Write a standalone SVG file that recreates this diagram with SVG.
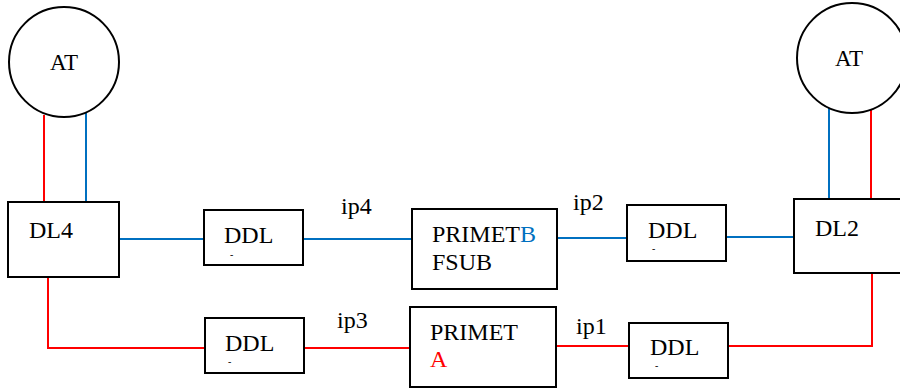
<svg xmlns="http://www.w3.org/2000/svg" width="900" height="389" viewBox="0 0 900 389" font-family="'Liberation Serif', 'Times New Roman', 'DejaVu Serif', serif">
<style>
.box{fill:#fff;stroke:#000;stroke-width:2}
.t{font-family:'Liberation Serif','Times New Roman','DejaVu Serif',serif;font-size:24px}
.s{font-family:'Liberation Serif','Times New Roman','DejaVu Serif',serif;font-size:10px}
.r{stroke:#ff0000;stroke-width:2;fill:none}
.b{stroke:#0070c0;stroke-width:2;fill:none}
</style>
<rect width="900" height="389" fill="#fff"/>
<g id="connectors">
<line class="r" x1="44" y1="115" x2="44" y2="202"/>
<line class="b" x1="86" y1="113" x2="86" y2="202"/>
<line class="b" x1="829" y1="108" x2="829" y2="199"/>
<line class="r" x1="871" y1="110" x2="871" y2="199"/>
<line class="b" x1="119" y1="239" x2="204" y2="239"/>
<line class="b" x1="303" y1="239" x2="412" y2="239"/>
<line class="b" x1="557" y1="238" x2="627" y2="238"/>
<line class="b" x1="726" y1="237" x2="794" y2="237"/>
<polyline class="r" points="48,277 48,348 205,348"/>
<line class="r" x1="304" y1="348" x2="410" y2="348"/>
<line class="r" x1="556" y1="346" x2="629" y2="346"/>
<polyline class="r" points="728,346 872,346 872,271"/>
<text class="t" x="341" y="214" fill="#000">ip4</text>
<text class="t" x="337" y="328" fill="#000">ip3</text>
<text class="t" x="573" y="210" fill="#000">ip2</text>
<text class="t" x="576" y="334" fill="#000">ip1</text>
</g>
<g id="at-left">
<circle cx="64" cy="62" r="55" fill="#fff" stroke="#000" stroke-width="2"/>
<text class="t" x="64" y="70" text-anchor="middle" font-size="23" style="font-size:23px" fill="#000">AT</text>
</g>
<g id="at-right">
<circle cx="852" cy="58" r="55" fill="#fff" stroke="#000" stroke-width="2"/>
<text class="t" x="849" y="66" text-anchor="middle" style="font-size:23px" fill="#000">AT</text>
</g>
<g id="dl4">
<rect class="box" x="8" y="202" width="111" height="75"/>
<text class="t" x="29" y="238" fill="#000">DL4</text>
</g>
<g id="dl2">
<rect class="box" x="794" y="199" width="110" height="74"/>
<text class="t" x="815" y="236" fill="#000">DL2</text>
</g>
<g id="ddl-tl">
<rect class="box" x="204" y="210" width="99" height="55"/>
<text class="t" x="224" y="243" fill="#000">DDL</text>
<text class="s" x="230" y="258" fill="#000">-</text>
</g>
<g id="ddl-bl">
<rect class="box" x="205" y="318" width="99" height="55"/>
<text class="t" x="225" y="351" fill="#000">DDL</text>
<text class="s" x="228" y="365" fill="#000">-</text>
</g>
<g id="ddl-tr">
<rect class="box" x="627" y="205" width="99" height="56"/>
<text class="t" x="648" y="238" fill="#000">DDL</text>
<text class="s" x="652" y="252" fill="#000">-</text>
</g>
<g id="ddl-br">
<rect class="box" x="629" y="323" width="99" height="55"/>
<text class="t" x="650" y="355" fill="#000">DDL</text>
<text class="s" x="655" y="369" fill="#000">-</text>
</g>
<g id="primet-b">
<rect class="box" x="412" y="209" width="145" height="80"/>
<text class="t" x="432" y="242" fill="#000">PRIMET<tspan fill="#0070c0">B</tspan></text>
<text class="t" x="432" y="270" fill="#000">FSUB</text>
</g>
<g id="primet-a">
<rect class="box" x="410" y="307" width="146" height="80"/>
<text class="t" x="430" y="340" fill="#000">PRIMET</text>
<text class="t" x="430" y="367" fill="#ff0000">A</text>
</g>
</svg>
